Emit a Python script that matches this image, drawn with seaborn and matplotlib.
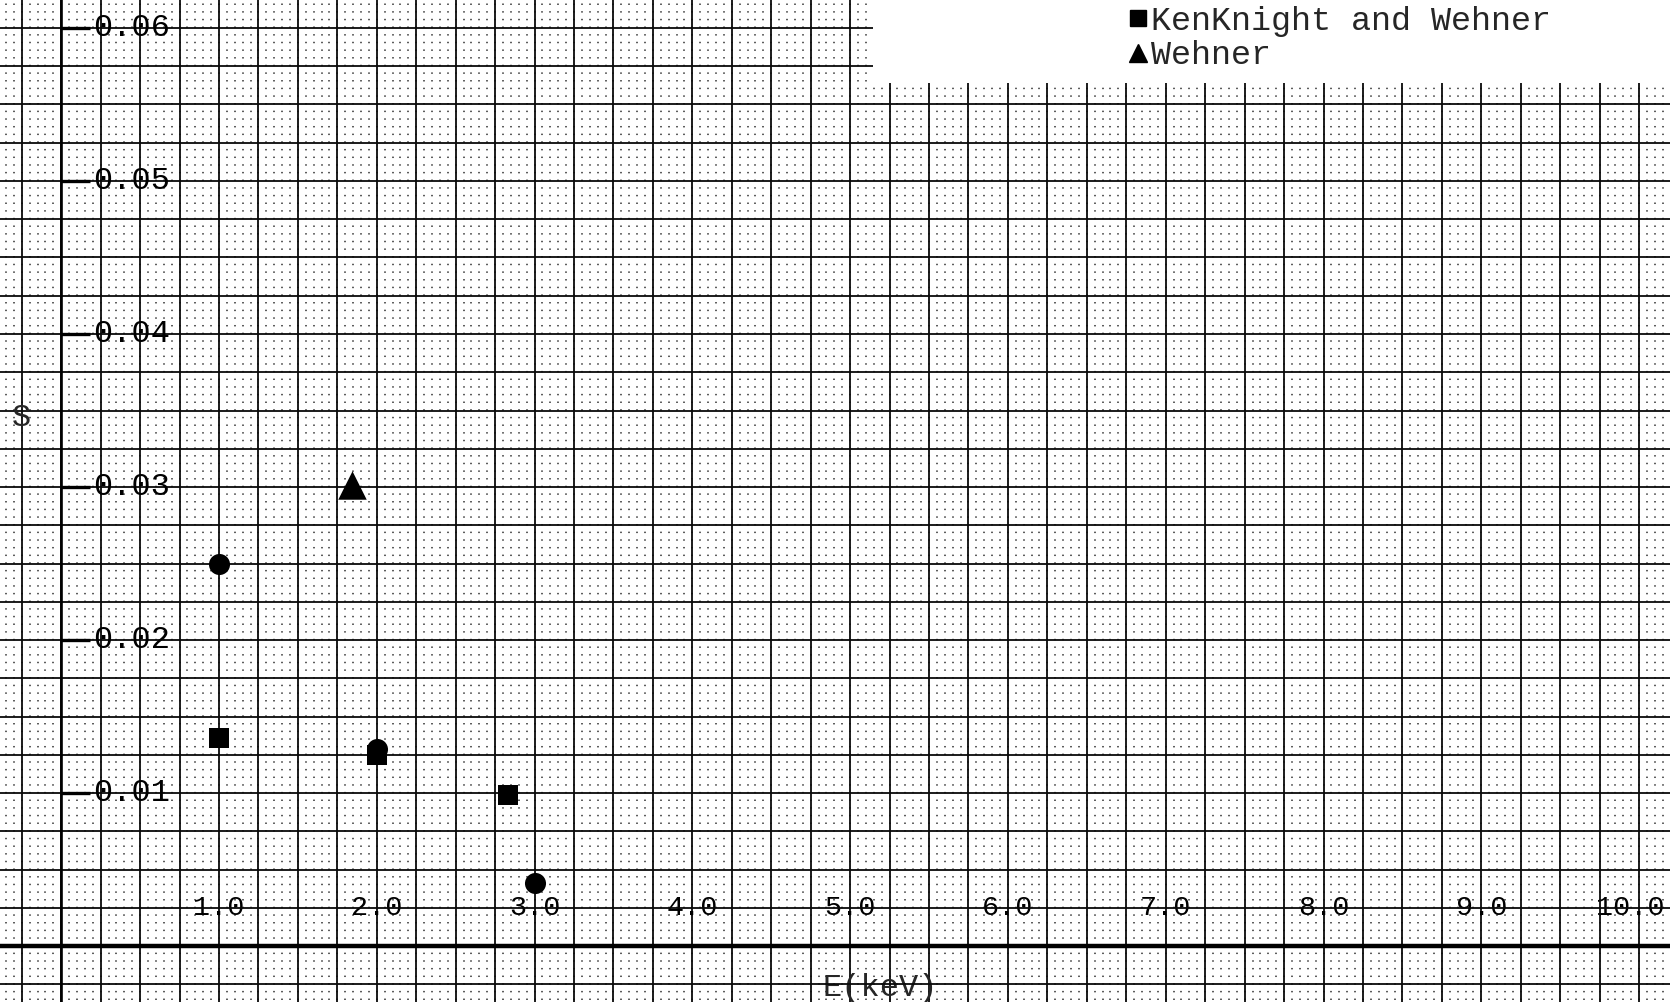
import numpy as np
import matplotlib
matplotlib.use("Agg")
import matplotlib.pyplot as plt
from matplotlib.ticker import MultipleLocator, FixedLocator
from matplotlib.transforms import ScaledTranslation
from matplotlib.patches import Rectangle
from matplotlib.lines import Line2D
import seaborn as sns

# Sputtering yield S against ion energy E (keV)
circle_E = [1.0, 2.0, 3.0]
circle_S = [0.0250, 0.0129, 0.0041]

kenknight_E = [1.0, 2.0, 2.83]
kenknight_S = [0.0136, 0.0125, 0.0099]

wehner_E = [1.84]
wehner_S = [0.0301]

x_ticks = [1.0, 2.0, 3.0, 4.0, 5.0, 6.0, 7.0, 8.0, 9.0, 10.0]
x_tick_labels = ["1.0", "2.0", "3.0", "4.0", "5.0", "6.0", "7.0", "8.0", "9.0", "10.0"]
y_ticks = [0.01, 0.02, 0.03, 0.04, 0.05, 0.06]
y_tick_labels = ["0.01", "0.02", "0.03", "0.04", "0.05", "0.06"]
legend_labels = ["KenKnight and Wehner", "Wehner"]

sns.set_style("white")
plt.rcParams["font.family"] = ["Liberation Mono", "DejaVu Sans Mono"]

fig = plt.figure(figsize=(16.7, 10.02), dpi=100)
ax = fig.add_axes([0, 0, 1, 1])
ax.set_xlim(-0.388, 10.196)
ax.set_ylim(-0.00366, 0.06183)

# graph paper: fine dotted lattice (0.05 keV x 0.0005)
paper_x = np.arange(-0.35, 10.25, 0.05)
ax.vlines(paper_x, -0.0035, 0.0620, colors="#2e2e2e", linewidth=1.1,
          linestyles=[(0, (0.95, 4.06))], zorder=0)

# graph paper: ruled lines every 0.25 keV / 0.0025
ax.xaxis.set_major_locator(FixedLocator(x_ticks))
ax.set_xticklabels(x_tick_labels)
ax.xaxis.set_minor_locator(MultipleLocator(0.25))
ax.yaxis.set_major_locator(FixedLocator(y_ticks))
ax.set_yticklabels(y_tick_labels)
ax.yaxis.set_minor_locator(MultipleLocator(0.0025))
ax.grid(True, which="both", color="#0a0a0a", linewidth=1.3)
ax.set_axisbelow(True)

# axes drawn through the origin
ax.spines["top"].set_visible(False)
ax.spines["right"].set_visible(False)
ax.spines["left"].set_position(("data", 0))
ax.spines["bottom"].set_position(("data", 0))
ax.spines["left"].set_linewidth(1.9)
ax.spines["bottom"].set_linewidth(3.2)
ax.spines["left"].set_color("black")
ax.spines["bottom"].set_color("black")

ax.tick_params(which="minor", length=0, left=False, bottom=False)
ax.tick_params(axis="y", which="major", left=True, direction="in", length=21,
               width=2.4, pad=-23, labelsize=23, colors="black")
ax.tick_params(axis="x", which="major", bottom=False, direction="in", length=0,
               pad=-27.5, labelsize=20.5, colors="black")
for lab in ax.get_yticklabels():
    lab.set_ha("left")
    lab.set_va("center")
for lab in ax.get_xticklabels():
    lab.set_va("center")
# keep the decimal point of the two-digit label on its rule
last = ax.get_xticklabels()[-1]
last.set_transform(last.get_transform() + ScaledTranslation(-6 / 72, 0, fig.dpi_scale_trans))

# measured points
sns.scatterplot(x=circle_E, y=circle_S, marker="o", s=230, color="black",
                edgecolor="black", linewidth=0, ax=ax, zorder=5, legend=False)
sns.scatterplot(x=kenknight_E, y=kenknight_S, marker="s", s=200, color="black",
                edgecolor="black", linewidth=0, ax=ax, zorder=5, legend=False)
sns.scatterplot(x=wehner_E, y=wehner_S, marker="^", s=420, color="black",
                edgecolor="black", linewidth=0, ax=ax, zorder=5, legend=False)

# axis titles
ax.set_xlabel("E(keV)", fontsize=23, va="center", ha="center")
ax.xaxis.set_label_coords(5.19, -0.00272, transform=ax.transData)
ax.set_ylabel("S", fontsize=23, rotation=0, va="center", ha="center")
ax.yaxis.set_label_coords(-0.255, 0.0345, transform=ax.transData)

# key panel
ax.add_patch(Rectangle((873 / 1670, 1 - 83 / 1002), 1 - 873 / 1670, 83 / 1002,
                       transform=ax.transAxes, facecolor="white",
                       edgecolor="none", zorder=4))
handles = [
    Line2D([], [], marker="s", markersize=12, color="black", linestyle="none"),
    Line2D([], [], marker="^", markersize=12.5, color="black", linestyle="none"),
]
leg = ax.legend(handles, legend_labels, loc="upper left",
                bbox_to_anchor=(1128 / 1670, 1 - 6 / 1002),
                bbox_transform=fig.transFigure, frameon=False, fontsize=24,
                handlelength=0.6, handletextpad=0.1, labelspacing=0.1,
                borderpad=0, borderaxespad=0)
leg.set_zorder(6)

fig.savefig("out.png", dpi=100)
